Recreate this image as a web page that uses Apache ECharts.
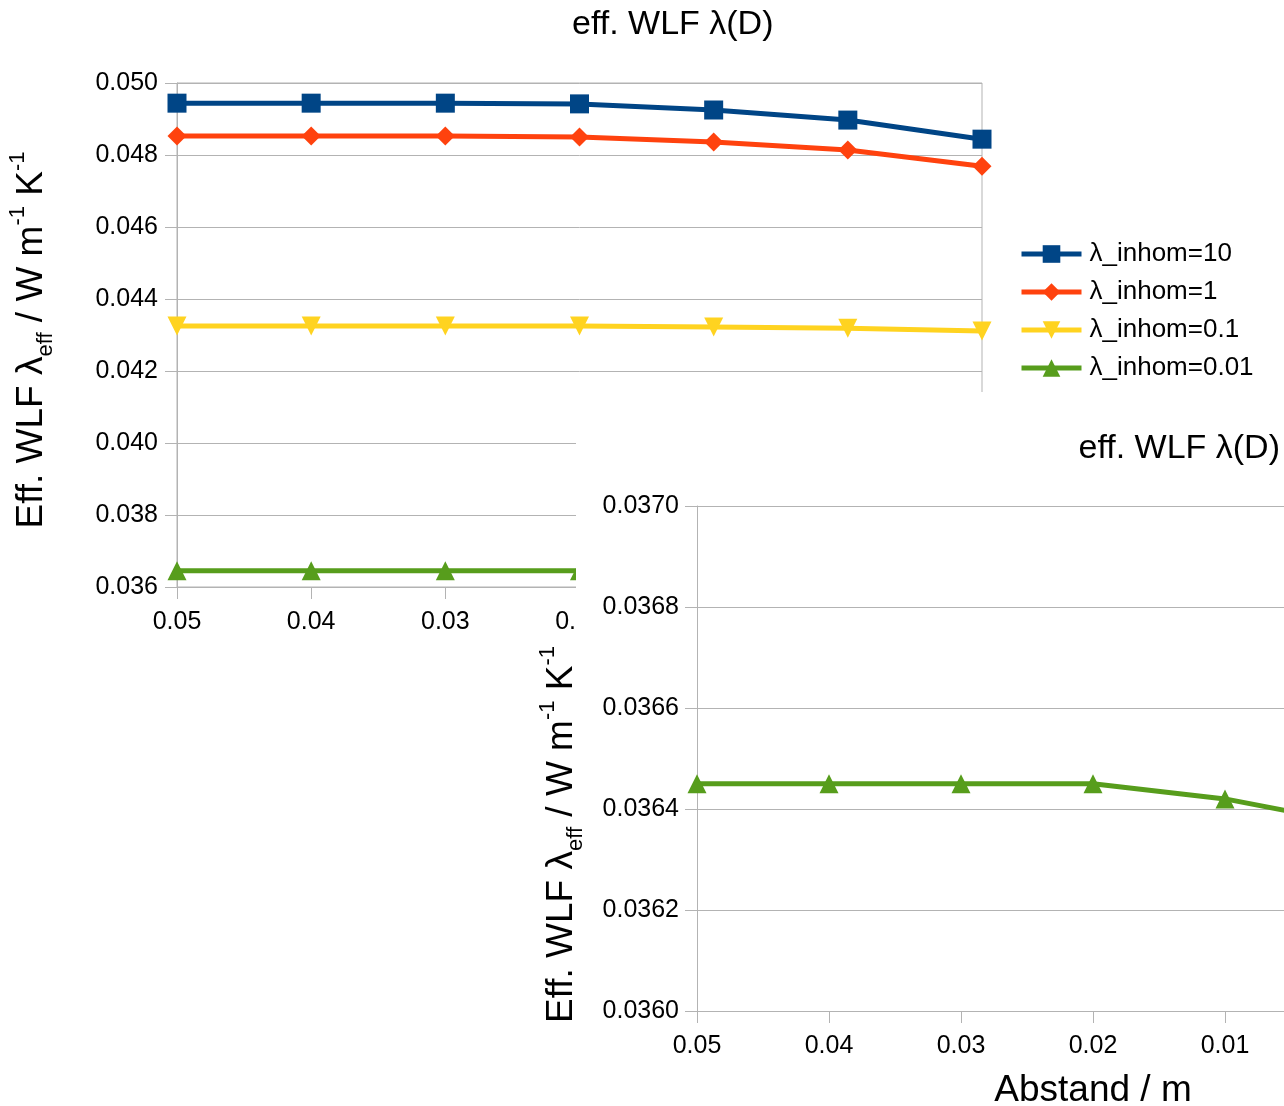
<!DOCTYPE html>
<html><head><meta charset="utf-8">
<script src="https://cdn.jsdelivr.net/npm/echarts@6/dist/echarts.min.js"></script>
<style>
html,body{margin:0;padding:0;background:#fff;}
#main{position:absolute;left:0;top:0;width:1284px;height:1106px;}
#inset{position:absolute;left:530px;top:392px;width:754px;height:714px;
  background:linear-gradient(to right, rgba(255,255,255,0) 46px, #fff 46px);overflow:hidden;}
</style></head><body>
<div id="main"></div><div id="inset"></div>
<script>
// ---- data ----
const categories = ['0.05', '0.04', '0.03', '0.02', '0.01', '0.005', '0.001'];
const seriesNames = ['λ_inhom=10', 'λ_inhom=1', 'λ_inhom=0.1', 'λ_inhom=0.01'];
const inhom10 = [0.04944, 0.04944, 0.04944, 0.04942, 0.04925, 0.04897, 0.04844];
const inhom1 = [0.04853, 0.04853, 0.04853, 0.04850, 0.04836, 0.04814, 0.04769];
const inhom01 = [0.04325, 0.04325, 0.04325, 0.04325, 0.04322, 0.04319, 0.04311];
const inhom001 = [0.03645, 0.03645, 0.03645, 0.03645, 0.03642, 0.03637, 0.03630];
const mainYRange = [0.036, 0.050, 0.002];
const insetYRange = [0.0360, 0.0370, 0.0002];
const titleText = 'eff. WLF λ(D)';
const xAxisTitle = 'Abstand / m';

// ---- style ----
const FONT = 'Liberation Sans';
const GRID = '#b3b3b3';
const colors = ['#004586', '#ff420e', '#ffd320', '#579d1c'];
const symbols = ['rect', 'diamond', 'triangle', 'triangle'];
const rotations = [0, 0, 180, 0];
const yName = '{a|Eff. WLF λ}{sub|eff}{a| / W m}{sup|-1}{a| K}{sup|-1}';
const yNameRich = {
  a: {fontSize: 37, fontFamily: FONT, color: '#000', lineHeight: 50, verticalAlign: 'middle'},
  sub: {fontSize: 22, fontFamily: FONT, color: '#000', lineHeight: 22, verticalAlign: 'bottom'},
  sup: {fontSize: 22, fontFamily: FONT, color: '#000', lineHeight: 22, verticalAlign: 'top'}
};
const allData = [inhom10, inhom1, inhom01, inhom001];

function mkSeries(i) {
  return {
    name: seriesNames[i], type: 'line', data: allData[i],
    symbol: symbols[i], symbolSize: 19, symbolRotate: rotations[i],
    lineStyle: {color: colors[i], width: 5},
    itemStyle: {color: colors[i]},
    showSymbol: true, animation: false, z: 3 + (3 - i)
  };
}

const main = echarts.init(document.getElementById('main'), null, {renderer: 'canvas'});
main.setOption({
  animation: false,
  backgroundColor: '#fff',
  title: {text: titleText, left: 572, top: 8, padding: 0,
    textStyle: {fontFamily: FONT, fontSize: 34, fontWeight: 'normal', color: '#000'}},
  legend: {
    orient: 'vertical', left: 1019, top: 241, padding: 0,
    itemWidth: 60, itemHeight: 22, itemGap: 12,
    lineStyle: {width: 5},
    textStyle: {fontFamily: FONT, fontSize: 26, color: '#000', padding: [0, 0, 0, 3], lineHeight: 26},
    data: seriesNames
  },
  grid: {left: 177, right: 302, top: 83, bottom: 519, show: true, borderColor: GRID, borderWidth: 1,
    outerBoundsMode: 'none', containLabel: false},
  xAxis: {
    type: 'category', data: categories, boundaryGap: false,
    axisLine: {show: true, lineStyle: {color: GRID, width: 1}},
    axisTick: {show: true, length: 12, inside: false, alignWithLabel: true, lineStyle: {color: GRID}},
    axisLabel: {fontFamily: FONT, fontSize: 25, color: '#000', margin: 23, interval: 0},
    splitLine: {show: false}
  },
  yAxis: {
    type: 'value', min: mainYRange[0], max: mainYRange[1], interval: mainYRange[2],
    name: yName, nameLocation: 'middle', nameRotate: 90, nameGap: 120,
    nameTextStyle: {rich: yNameRich, padding: [0, 10, 0, 0]},
    axisLine: {show: true, lineStyle: {color: GRID, width: 1}},
    axisTick: {show: true, length: 12, lineStyle: {color: GRID}},
    axisLabel: {fontFamily: FONT, fontSize: 25, color: '#000', margin: 19,
      formatter: v => v.toFixed(3)},
    splitLine: {show: true, lineStyle: {color: GRID, width: 1}}
  },
  series: [0, 1, 2, 3].map(mkSeries)
});

const inset = echarts.init(document.getElementById('inset'), null, {renderer: 'canvas'});
inset.setOption({
  animation: false,
  title: {text: titleText, right: 4, top: 40, padding: 0,
    textStyle: {fontFamily: FONT, fontSize: 34, fontWeight: 'normal', color: '#000'}},
  grid: {left: 167, right: -205, top: 114, bottom: 95, show: false,
    outerBoundsMode: 'none', containLabel: false},
  xAxis: {
    type: 'category', data: categories, boundaryGap: false,
    name: xAxisTitle, nameLocation: 'middle', nameGap: 61,
    nameTextStyle: {fontFamily: FONT, fontSize: 37, color: '#000'},
    axisLine: {show: true, lineStyle: {color: GRID, width: 1}},
    axisTick: {show: true, length: 12, alignWithLabel: true, lineStyle: {color: GRID}},
    axisLabel: {fontFamily: FONT, fontSize: 25, color: '#000', margin: 23, interval: 0},
    splitLine: {show: false}
  },
  yAxis: {
    type: 'value', min: insetYRange[0], max: insetYRange[1], interval: insetYRange[2],
    name: yName, nameLocation: 'middle', nameRotate: 90, nameGap: 110,
    nameTextStyle: {rich: yNameRich, padding: [0, 152, 0, 0]},
    axisLine: {show: true, lineStyle: {color: GRID, width: 1}},
    axisTick: {show: true, length: 12, lineStyle: {color: GRID}},
    axisLabel: {fontFamily: FONT, fontSize: 25, color: '#000', margin: 18,
      formatter: v => v.toFixed(4)},
    splitLine: {show: true, lineStyle: {color: GRID, width: 1}}
  },
  series: [mkSeries(3)]
});
</script>
</body></html>
